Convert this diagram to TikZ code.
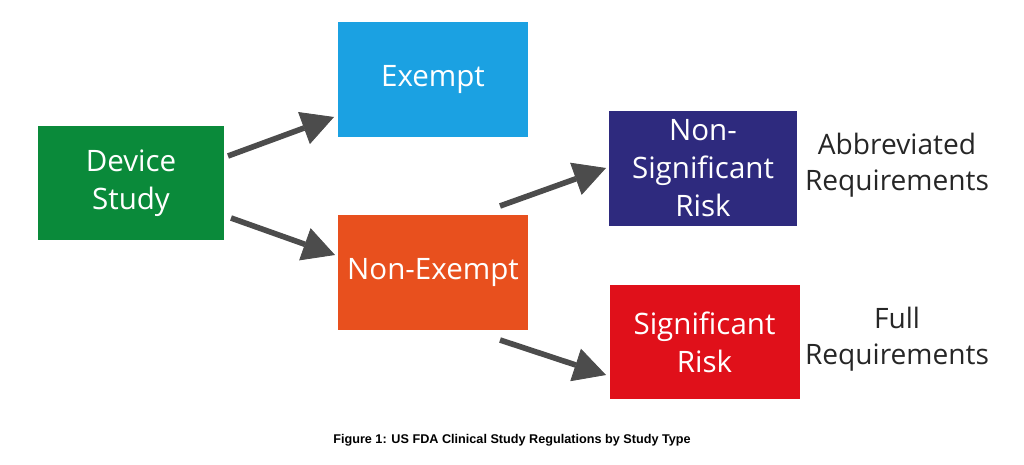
\documentclass[tikz,border=0pt]{standalone}
\usepackage{fontspec}
\setmainfont{Open Sans}
\newfontfamily\capfont{Liberation Sans}
\usetikzlibrary{arrows.meta}
\definecolor{studygreen}{HTML}{0A8A3A}
\definecolor{exemptblue}{HTML}{1BA1E2}
\definecolor{nonexorange}{HTML}{E8501E}
\definecolor{nsrblue}{HTML}{2E2A7E}
\definecolor{srred}{HTML}{E0101A}
\definecolor{arrowgray}{HTML}{6A6A6A}
\tikzset{
  box/.style={minimum width=4.75cm, minimum height=2.87cm, align=center, text=white,
    font=\fontsize{21}{27}\selectfont},
  note/.style={align=center, font=\fontsize{20}{26}\selectfont, text=black!85},
  flow/.style={draw=black!70, fill=arrowgray, line width=4pt,
    -{Triangle[length=0.8cm, width=0.85cm, line width=0.6pt]}}
}
\begin{document}
\begin{tikzpicture}
\useasboundingbox (0,0) rectangle (25.6,11.6);

% boxes
\node[box, fill=studygreen, minimum width=4.65cm, minimum height=2.85cm] (device) at (3.275,7.025) {Device\\Study};
\node[box, fill=exemptblue] (exempt) at (10.825,9.6125) {Exempt};
\node[box, fill=nonexorange] (nonexempt) at (10.825,4.7875) {Non-Exempt};
\node[box, fill=nsrblue, minimum width=4.7cm] (nsr) at (17.575,7.3875) {Non-\\Significant\\Risk};
\node[box, fill=srred, minimum height=2.85cm] (sr) at (17.6125,3.05) {Significant\\Risk};

% requirements
\node[note] (abbrev) at (22.425,7.475) {Abbreviated\\Requirements};
\node[note] (full) at (22.425,3.125) {Full\\Requirements};

% arrows
\coordinate (a1s) at (5.7,7.7);   \coordinate (a1e) at (8.35,8.675);
\coordinate (a2s) at (5.775,6.15); \coordinate (a2e) at (8.375,5.225);
\coordinate (a3s) at (12.5,6.45); \coordinate (a3e) at (15.15,7.4);
\coordinate (a4s) at (12.5,3.1);  \coordinate (a4e) at (15.15,2.225);
\draw[flow] (a1s) -- (a1e);
\draw[flow] (a2s) -- (a2e);
\draw[flow] (a3s) -- (a3e);
\draw[flow] (a4s) -- (a4e);

% caption
\node[font=\capfont\bfseries\fontsize{9}{11}\selectfont] (caption) at (12.8,0.6) {Figure 1: US FDA Clinical Study Regulations by Study Type};
\end{tikzpicture}
\end{document}
